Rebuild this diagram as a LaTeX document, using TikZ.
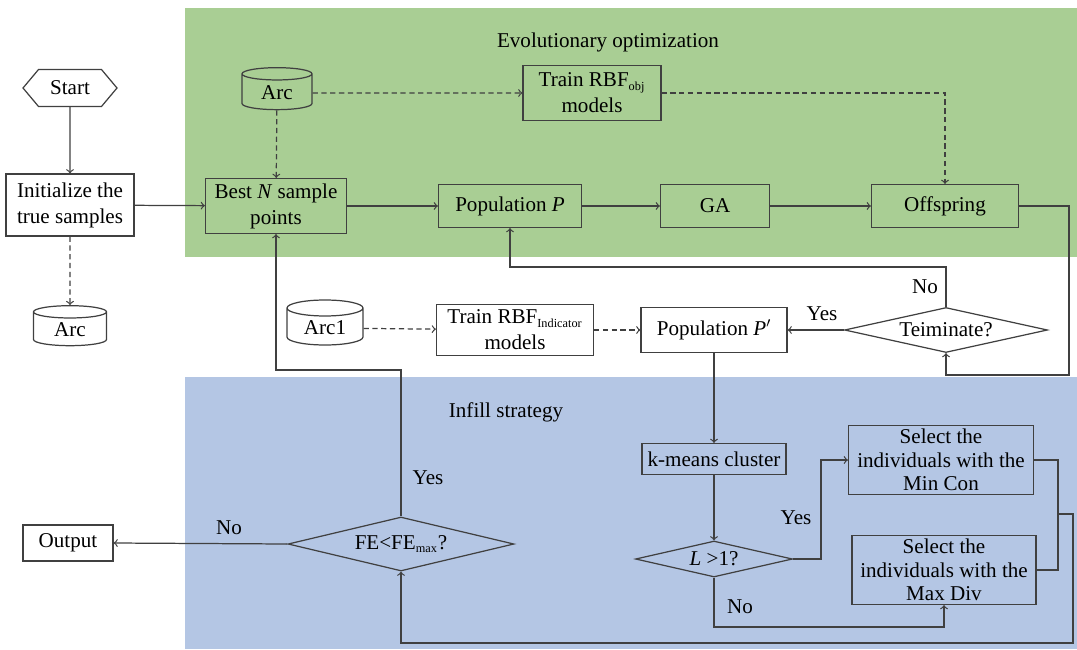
\documentclass[tikz,border=0pt]{standalone}
\usepackage{fontspec}
\setmainfont{Liberation Serif}
\usetikzlibrary{shapes.geometric,shapes.symbols}

\definecolor{evogreen}{RGB}{169,206,148}
\definecolor{infillblue}{RGB}{180,198,228}
\definecolor{linegray}{RGB}{64,64,64}

\newcommand{\subtxt}[1]{\textsubscript{\fontsize{7}{8}\selectfont #1}}

\tikzset{
  box/.style={draw=linegray, line width=0.7pt, align=center, inner sep=1pt},
  store/.style={cylinder, shape border rotate=90, aspect=0.35, draw=linegray, line width=0.7pt, inner sep=1pt},
  decision/.style={diamond, draw=linegray, line width=0.7pt, inner sep=0pt, aspect=4},
  flow/.style={->, draw=linegray, line width=0.7pt},
  dflow/.style={flow, dash pattern=on 3pt off 2pt},
  tight/.style={font=\fontsize{12}{13.4}\selectfont}
}

\begin{document}
\begin{tikzpicture}[x=0.02cm, y=-0.02cm, font=\fontsize{12}{14.8}\selectfont]
			%%%%% START %%%%%
			\useasboundingbox (0,0) rectangle (1077,649);
			
			\fill[evogreen] (185,8) rectangle (1077,257);
			\fill[infillblue] (185,377) rectangle (1077,649);
			\node at (608,42) {Evolutionary optimization};
			\node at (506,412) {Infill strategy};
			
			\node[box, signal, signal to=west and east, signal pointer angle=100, minimum width=1.88cm, minimum height=0.74cm] (start) at (70,88) {Start};
			\node[box, minimum width=2.56cm, minimum height=1.24cm] (init) at (70,205) {Initialize the\\true samples};
			\node[store, minimum width=1.46cm, minimum height=0.8cm] (arcL) at (70,330) {Arc};
			
			\node[store, minimum width=1.4cm, minimum height=0.84cm] (arcT) at (277,93) {Arc};
			\node[box, minimum width=2.76cm, minimum height=1.1cm] (trainobj) at (592,93) {Train RBF\subtxt{obj}\\models};
			\node[box, minimum width=2.82cm, minimum height=1.1cm] (bestN) at (276,206) {Best \textit{N} sample\\points};
			\node[box, minimum width=2.86cm, minimum height=0.86cm] (popP) at (510,206) {Population \textit{P}};
			\node[box, minimum width=2.18cm, minimum height=0.86cm] (ga) at (715,206) {GA};
			\node[box, minimum width=2.94cm, minimum height=0.86cm] (offspring) at (945,206) {Offspring};
			
			\node[store, minimum width=1.52cm, minimum height=0.9cm] (arc1) at (325,328) {Arc1};
			\node[box, minimum width=3.14cm, minimum height=1.02cm] (trainind) at (515,330) {Train RBF\subtxt{Indicator}\\models};
			\node[box, minimum width=2.92cm, minimum height=0.9cm] (popQ) at (714,330) {Population \textit{P}$'$};
			\node[decision, minimum width=4.06cm, minimum height=0.9cm] (teim) at (946,330) {Teiminate?};
			
			\node[box, minimum width=2.88cm, minimum height=0.62cm] (kmeans) at (714,459) {k-means cluster};
			\node[decision, minimum width=3.14cm, minimum height=0.72cm] (lcheck) at (714,559) {\textit{L} >1?};
			\node[box, tight, minimum width=3.7cm, minimum height=1.38cm] (mincon) at (941,460) {Select the\\individuals with the\\Min Con};
			\node[box, tight, minimum width=3.68cm, minimum height=1.38cm] (maxdiv) at (944,570) {Select the\\individuals with the\\Max Div};
			\node[decision, minimum width=4.52cm, minimum height=1.08cm] (fe) at (401,544) {FE<FE\subtxt{max}?};
			\node[box, minimum width=1.8cm, minimum height=0.72cm] (output) at (68,543) {Output};
			
			\coordinate (c1) at (1069,375);
			\coordinate (c2) at (946,267);
			\coordinate (c3) at (401,370);
			\coordinate (c4) at (821,559);
			\coordinate (c5) at (714,627);
			\coordinate (c6) at (1058,514);
			\coordinate (c7) at (1073,643);
			
			\draw[flow] (start) -- (init);
			\draw[dflow] (init) -- (arcL);
			\draw[flow] (init) -- (bestN);
			\draw[dflow] (arcT) -- (bestN);
			\draw[dflow] (arcT) -- (trainobj);
			\draw[dflow] (trainobj.east) -| (offspring.north);
			\draw[flow] (bestN) -- (popP);
			\draw[flow] (popP) -- (ga);
			\draw[flow] (ga) -- (offspring);
			\draw[flow] (offspring.east) -| (c1) -| (teim.south);
			\draw[flow] (teim.north) -- (c2) -| (popP.south);
			\node at (925,287) {No};
			\draw[flow] (teim.west) -- (popQ.east);
			\node at (822,314) {Yes};
			\draw[dflow] (arc1) -- (trainind);
			\draw[dflow] (trainind) -- (popQ);
			\draw[flow] (popQ) -- (kmeans);
			\draw[flow] (kmeans) -- (lcheck);
			\draw[flow] (lcheck.east) -- (c4) |- (mincon.west);
			\node at (796,518) {Yes};
			\draw[flow] (lcheck.south) -- (c5) -| (maxdiv.south);
			\node at (740,607) {No};
			\draw[draw=linegray, line width=0.7pt] (mincon.east) -| (c6) |- (maxdiv.east);
			\draw[flow] (c6) -| (c7) -| (fe.south);
			\draw[flow] (fe.north) -- (c3) -| (bestN.south);
			\node at (428,478) {Yes};
			\draw[flow] (fe.west) -- (output.east);
			\node at (229,528) {No};
			
			%%%%% END %%%%%
		\end{tikzpicture}
\end{document}
